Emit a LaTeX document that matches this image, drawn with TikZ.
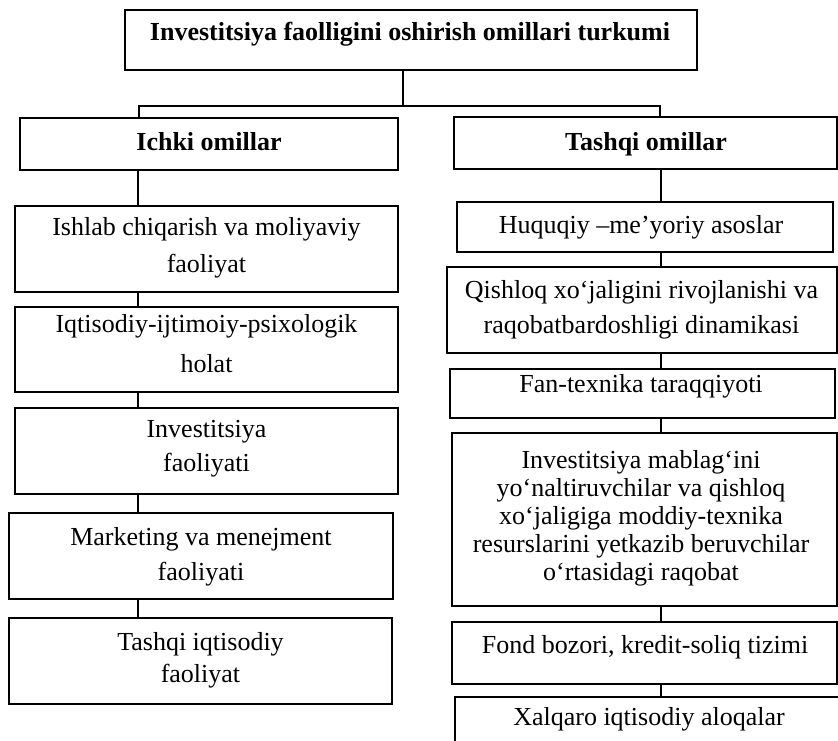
\documentclass[tikz,border=0pt]{standalone}
\usepackage{fontspec}
\setmainfont{Liberation Serif}
\begin{document}
\begin{tikzpicture}[x=1pt,y=-1pt,
  box/.style={draw, line width=1.7pt, rectangle, inner sep=0pt},
  txt/.style={align=center, inner sep=0pt, font=\fontsize{26}{35}\selectfont},
  conn/.style={line width=1.5pt}]
\useasboundingbox (0,0) rectangle (838,741);
\clip (0,0) rectangle (838,741);
\fill[white] (0,0) rectangle (838,741);
% boxes
\node[box, minimum width=572, minimum height=60] (title) at (411,40) {};
\node[box, minimum width=378, minimum height=52] (hL) at (209,144) {};
\node[box, minimum width=383, minimum height=52] (hR) at (645.5,143) {};
\node[box, minimum width=383, minimum height=86] (L1) at (206.5,249) {};
\node[box, minimum width=383, minimum height=85] (L2) at (206.5,349.5) {};
\node[box, minimum width=383, minimum height=86] (L3) at (206.5,451) {};
\node[box, minimum width=384, minimum height=86] (L4) at (201,556) {};
\node[box, minimum width=383, minimum height=86] (L5) at (200.5,661) {};
\node[box, minimum width=376, minimum height=50] (R1) at (645,227) {};
\node[box, minimum width=390, minimum height=86] (R2) at (642,310) {};
\node[box, minimum width=385, minimum height=49] (R3) at (642.5,393.5) {};
\node[box, minimum width=385, minimum height=173] (R4) at (644.5,519.5) {};
\node[box, minimum width=385, minimum height=62] (R5) at (644.5,653) {};
\node[box, minimum width=390, minimum height=73] (R6) at (650,733.5) {};
% texts
\node[txt, anchor=base, font=\fontsize{26}{30}\selectfont\bfseries] (titlet) at (410,41) {Investitsiya faolligini oshirish omillari turkumi};
\node[txt, anchor=base, font=\fontsize{26}{30}\selectfont\bfseries] (hLt) at (209,150) {Ichki omillar};
\node[txt, anchor=base, font=\fontsize{26}{30}\selectfont\bfseries] (hRt) at (646,150) {Tashqi omillar};
\node[txt, font=\fontsize{26}{37}\selectfont] (L1t) at (206.5,247.5) {Ishlab chiqarish va moliyaviy\\faoliyat};
\node[txt, font=\fontsize{26}{40}\selectfont] (L2t) at (206.5,344) {Iqtisodiy-ijtimoiy-psixologik\\holat};
\node[txt, font=\fontsize{26}{34}\selectfont] (L3t) at (206.5,449) {Investitsiya\\faoliyati};
\node[txt, font=\fontsize{26}{35}\selectfont] (L4t) at (201,556.5) {Marketing va menejment\\faoliyati};
\node[txt, font=\fontsize{26}{32}\selectfont] (L5t) at (200.5,660) {Tashqi iqtisodiy\\faoliyat};
\node[txt, anchor=base] (R1t) at (641,233) {Huquqiy –me’yoriy asoslar};
\node[txt, font=\fontsize{26}{35}\selectfont] (R2t) at (641.5,309.5) {Qishloq xo‘jaligini rivojlanishi va\\raqobatbardoshligi dinamikasi};
\node[txt, anchor=base] (R3t) at (641,392) {Fan-texnika taraqqiyoti};
\node[txt, font=\fontsize{26}{28}\selectfont] (R4t) at (641,518) {Investitsiya mablag‘ini\\yo‘naltiruvchilar va qishloq\\xo‘jaligiga moddiy-texnika\\resurslarini yetkazib beruvchilar\\o‘rtasidagi raqobat};
\node[txt, anchor=base] (R5t) at (645,653) {Fond bozori, kredit-soliq tizimi};
\node[txt, anchor=base] (R6t) at (649,725) {Xalqaro iqtisodiy aloqalar};
% connector coordinates
\coordinate (jT) at (403,106);
\coordinate (jL) at (139,106);
\coordinate (jR) at (660,106);
\coordinate (cL) at (138,0);
\coordinate (cR) at (661,0);
% connectors
\draw[conn] (title.south -| jT) -- (jT);
\draw[conn] (jL |- hL.north) -- (jL) -- (jR) -- (jR |- hR.north);
\draw[conn] (hL.south -| cL) -- (L1.north -| cL);
\draw[conn] (L1.south -| cL) -- (L2.north -| cL);
\draw[conn] (L2.south -| cL) -- (L3.north -| cL);
\draw[conn] (L3.south -| cL) -- (L4.north -| cL);
\draw[conn] (L4.south -| cL) -- (L5.north -| cL);
\draw[conn] (hR.south -| cR) -- (R1.north -| cR);
\draw[conn] (R1.south -| cR) -- (R2.north -| cR);
\draw[conn] (R2.south -| cR) -- (R3.north -| cR);
\draw[conn] (R3.south -| cR) -- (R4.north -| cR);
\draw[conn] (R4.south -| cR) -- (R5.north -| cR);
\draw[conn] (R5.south -| cR) -- (R6.north -| cR);
\end{tikzpicture}
\end{document}
